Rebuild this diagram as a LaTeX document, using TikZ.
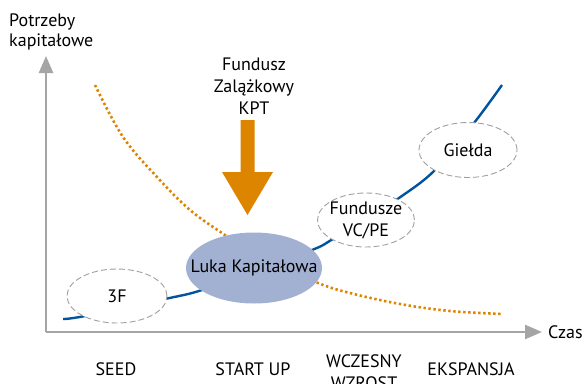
\documentclass[tikz,border=0pt]{standalone}
\usepackage{fontspec}
\setmainfont{PT Sans}
\usetikzlibrary{shapes.geometric,arrows.meta}
\definecolor{axisgray}{RGB}{165,165,165}
\definecolor{rimgray}{RGB}{160,160,160}
\definecolor{curveblue}{RGB}{0,84,158}
\definecolor{fundorange}{RGB}{222,133,0}
\definecolor{gapblue}{RGB}{162,177,210}
\tikzset{
	axis/.style={draw=axisgray, line width=2.5pt, -{Triangle[width=14pt,length=17pt]}},
	stage/.style={ellipse, draw=rimgray, dash pattern=on 6pt off 3pt, line width=0.9pt, fill=white, inner sep=0pt},
	phase/.style={align=center, inner sep=0pt},
	lbl/.style={font=\fontsize{18}{22}\selectfont},
}
\begin{document}
\begin{tikzpicture}[x=1pt, y=-1pt, lbl]
	\useasboundingbox (0,0) rectangle (586,383);

	\coordinate (origin) at (46,332);
	\coordinate (ytip) at (46,56);
	\coordinate (xtip) at (542,332);
	\draw[axis] (origin) -- (ytip);
	\draw[axis] (origin) -- (xtip);
	\node[anchor=north west, align=left, inner sep=0pt, font=\fontsize{18}{20}\selectfont] (ylabel) at (9,14) {Potrzeby\\kapitałowe};
	\node[anchor=west, inner sep=0pt] (xlabel) at (548,332) {Czas};

	\draw[fundorange, line width=2.6pt, dash pattern=on 2.4pt off 2.6pt]
		plot[smooth, tension=0.6] coordinates {(95,85) (123,137) (157,177) (190,210) (222,233) (260,258) (318,283) (350,293) (400,304) (450,311) (503,314)};

	\draw[curveblue, line width=2.4pt]
		plot[smooth, tension=0.6] coordinates {(63,319) (85,316) (165,299) (202,290) (254,270) (312,250) (333,239) (366,219) (399,198) (435,170) (474,123) (502,85)};

	\node[stage, minimum width=100pt, minimum height=54pt] (ff) at (117,296) {};
	\node[ellipse, fill=gapblue, inner sep=0pt, minimum width=136pt, minimum height=71pt] (gap) at (254,268) {};
	\node[stage, minimum width=97pt, minimum height=54pt] (vcpe) at (366,220) {};
	\node[stage, minimum width=98pt, minimum height=55pt] (gielda) at (468,150) {};
	\node at (ff) {3F};
	\node at (gap) {Luka Kapitałowa};
	\node[align=center] at (vcpe) {Fundusze\\VC/PE};
	\node at (gielda) {Giełda};

	\node[align=center, inner sep=0pt] (kpt) at (254,86) {Fundusz\\Zalążkowy\\KPT};
	\fill[fundorange] (240.5,120) -- (254.5,120) -- (254.5,172) -- (273,172) -- (247.5,215) -- (222,172) -- (240.5,172) -- cycle;

	\node[phase] (seed) at (116,369) {SEED};
	\node[phase] (startup) at (253,369) {START UP};
	\node[phase] (early) at (364,372) {WCZESNY\\WZROST};
	\node[phase] (expansion) at (471,369) {EKSPANSJA};
\end{tikzpicture}
\end{document}
